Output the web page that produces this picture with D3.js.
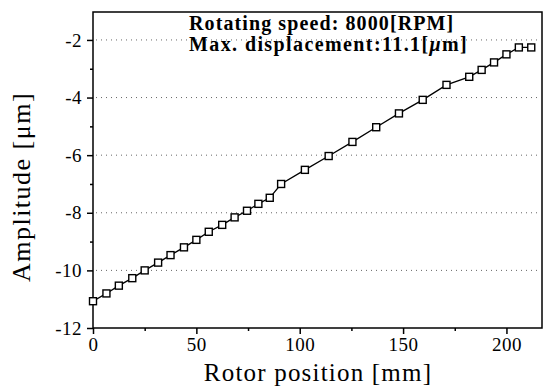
<!DOCTYPE html>
<html>
<head lang="en">
    <meta charset="UTF-8">
    <title></title>
    <script src="https://cdn.jsdelivr.net/npm/d3@7"></script>
    <style>
        body { margin: 0; background: #fff; }
        text { font-family: "Liberation Serif", "Times New Roman", serif; }
    </style>
</head>
<body>

<script>

    // rotor position [mm] and amplitude [um]
    var position = [0, 6.5, 12.5, 19, 25, 31.5, 37.5, 44, 50, 56, 62.5, 68.5, 74.5, 80, 85.5,
        91, 102.5, 114, 125.5, 137, 148, 159.5, 171, 182, 188, 194, 200, 206, 212];
    var amplitude = [-11.07, -10.80, -10.53, -10.27, -10.0, -9.73, -9.47, -9.20, -8.94, -8.66, -8.42, -8.16, -7.93, -7.69, -7.48,
        -7.0, -6.51, -6.03, -5.54, -5.03, -4.55, -4.08, -3.56, -3.28, -3.04, -2.78, -2.50, -2.26, -2.26];

    var xTicks = [0, 50, 100, 150, 200];
    var yTicks = [-12, -10, -8, -6, -4, -2];
    var xMinor = [25, 75, 125, 175];
    var yMinor = [-11, -9, -7, -5, -3];

    var W = 544, H = 388;
    var padL = 93, padR = 542, padT = 12, padB = 328;

    var svg = d3.select("body").append("svg")
            .attr("width", W)
            .attr("height", H);

    var x = d3.scaleLinear().domain([0, 217.2]).range([padL, padR]);
    var y = d3.scaleLinear().domain([-12, -1.03]).range([padB, padT]);

    // plain hyphen like the original, not the unicode minus
    var fmt = function(d){ return String(d); };

    // dotted grid
    svg.append("g").selectAll("line")
            .data(yTicks.slice(1))
            .enter().append("line")
            .attr("x1", padL + 3).attr("x2", padR - 3)
            .attr("y1", function(d){ return y(d); })
            .attr("y2", function(d){ return y(d); })
            .attr("stroke", "#666")
            .attr("stroke-width", 1)
            .attr("stroke-dasharray", "1,4");

    // frame
    svg.append("rect")
            .attr("x", padL).attr("y", padT)
            .attr("width", padR - padL).attr("height", padB - padT)
            .attr("fill", "none")
            .attr("stroke", "#000")
            .attr("stroke-width", 1.5);

    svg.append("g")
            .attr("transform", "translate(0," + padB + ")")
            .call(d3.axisBottom(x).tickValues(xTicks).tickSize(6).tickPadding(4).tickFormat(fmt));
    svg.append("g")
            .attr("transform", "translate(0," + padB + ")")
            .call(d3.axisBottom(x).tickValues(xMinor).tickSize(3).tickFormat(""));

    svg.append("g")
            .attr("transform", "translate(" + padL + ",0)")
            .call(d3.axisLeft(y).tickValues(yTicks).tickSize(6).tickPadding(5).tickFormat(fmt));
    svg.append("g")
            .attr("transform", "translate(" + padL + ",0)")
            .call(d3.axisLeft(y).tickValues(yMinor).tickSize(3).tickFormat(""));

    svg.selectAll(".domain").remove();
    svg.selectAll(".tick line").attr("stroke", "#000").attr("stroke-width", 1.5);
    svg.selectAll(".tick text")
            .attr("fill", "#000")
            .style("font-size", "19px")
            .style("letter-spacing", "0.5px")
            .style("font-family", "'Liberation Serif', serif");

    // series
    var pts = position.map(function(d, i){ return [d, amplitude[i]]; });

    svg.append("path")
            .datum(pts)
            .attr("fill", "none")
            .attr("stroke", "#000")
            .attr("stroke-width", 1.3)
            .attr("d", d3.line()
                    .x(function(d){ return x(d[0]); })
                    .y(function(d){ return y(d[1]); }));

    svg.append("g").selectAll("rect")
            .data(pts)
            .enter().append("rect")
            .attr("x", function(d){ return x(d[0]) - 3.5; })
            .attr("y", function(d){ return y(d[1]) - 3.5; })
            .attr("width", 7).attr("height", 7)
            .attr("fill", "#fff")
            .attr("stroke", "#000")
            .attr("stroke-width", 1.4);

    // annotation
    svg.append("text")
            .attr("x", 189).attr("y", 30)
            .style("font-size", "20px")
            .style("font-weight", "bold")
            .style("letter-spacing", "1.1px")
            .text("Rotating speed: 8000[RPM]");

    var note2 = svg.append("text")
            .attr("x", 189).attr("y", 51)
            .style("font-size", "20px")
            .style("font-weight", "bold")
            .style("letter-spacing", "1.4px");
    note2.append("tspan").text("Max. displacement:11.1[");
    note2.append("tspan").style("font-style", "italic").text("\u03bc");
    note2.append("tspan").text("m]");

    // axis titles
    svg.append("text")
            .attr("x", 318).attr("y", 381)
            .attr("text-anchor", "middle")
            .style("font-size", "25px")
            .style("letter-spacing", "1.2px")
            .text("Rotor position [mm]");

    svg.append("text")
            .attr("transform", "translate(30,187) rotate(-90)")
            .attr("text-anchor", "middle")
            .style("font-size", "26px")
            .style("letter-spacing", "1.5px")
            .text("Amplitude [\u03bcm]");

</script>
</body>
</html>
